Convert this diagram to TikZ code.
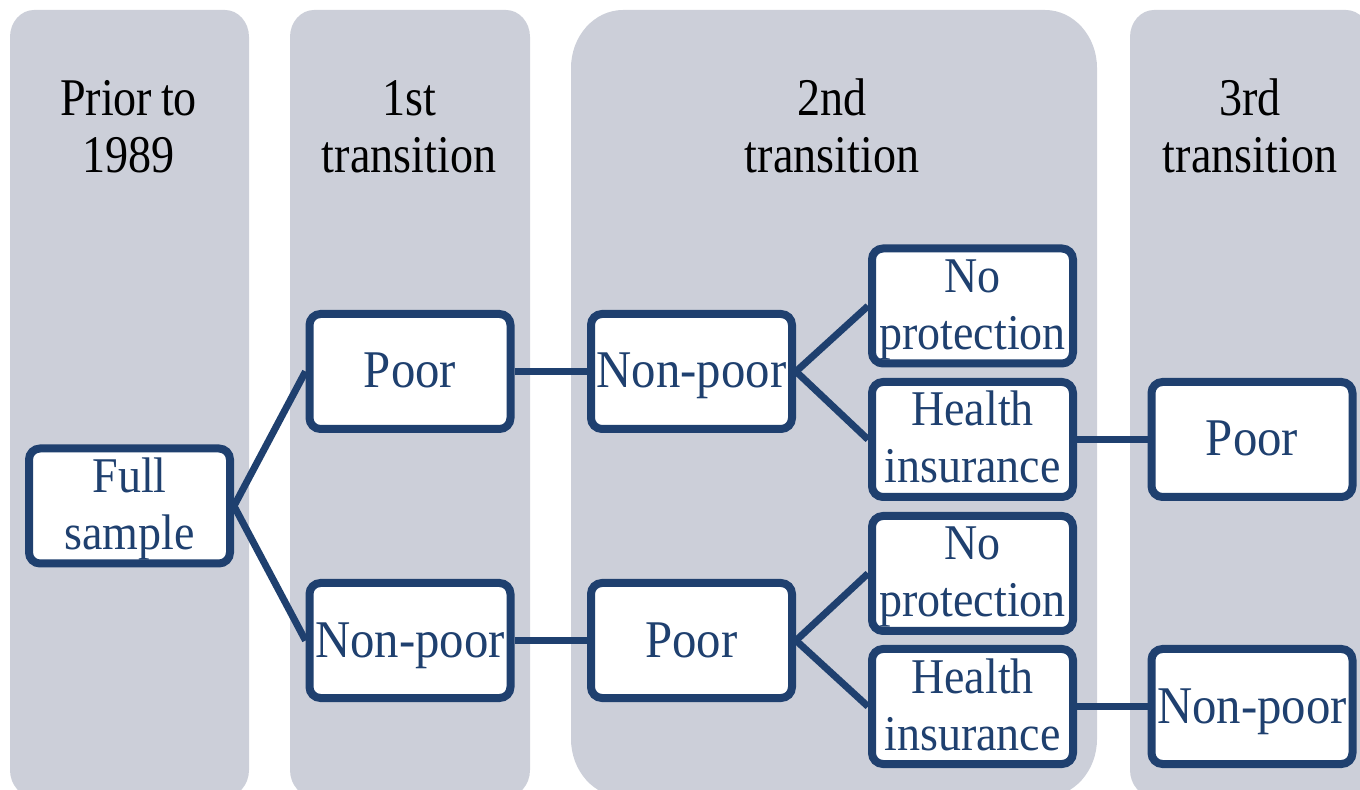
\documentclass[tikz,border=0pt]{standalone}
\usepackage{fontspec}
\setmainfont{Liberation Serif}
\newfontfamily\hdrfont{Liberation Serif}[FakeStretch=0.87]
\newfontfamily\boxfont{Liberation Serif}[FakeStretch=0.92]
\definecolor{colbg}{RGB}{204,207,217}
\definecolor{navy}{RGB}{31,64,111}
\newcommand\graycol[6]{%
 \fill[colbg] (#1,#2+#6) .. controls (#1,#2+0.448*#6) and (#1+0.448*#5,#2) .. (#1+#5,#2)
  -- (#3-#5,#2) .. controls (#3-0.448*#5,#2) and (#3,#2+0.448*#6) .. (#3,#2+#6)
  -- (#3,#4-#6) .. controls (#3,#4-0.448*#6) and (#3-0.448*#5,#4) .. (#3-#5,#4)
  -- (#1+#5,#4) .. controls (#1+0.448*#5,#4) and (#1,#4-0.448*#6) .. (#1,#4-#6) -- cycle;}
\tikzset{
  stagebox/.style={draw=navy, line width=4pt, fill=white, rounded corners=5.5pt,
    minimum width=100.5pt, minimum height=57.5pt, inner sep=0pt, text=navy, align=center},
  one/.style={font=\boxfont\fontsize{26.5}{28.5}\selectfont, text height=16.5pt, text depth=0pt},
  two/.style={font=\boxfont\fontsize{25}{28.5}\selectfont, text height=43.5pt, text depth=0pt},
  hdr/.style={anchor=north, inner sep=0pt, text=black, align=center,
    font=\hdrfont\fontsize{26.5}{28.5}\selectfont, text height=46pt, text depth=0pt},
  link/.style={draw=navy, line width=3.5pt},
}
\begin{document}
\begin{tikzpicture}[x=0.5pt,y=-0.5pt]
\useasboundingbox (0,0) rectangle (1360,790);
\begin{scope}
\clip (0,0) rectangle (1360,790);
\graycol{10}{10}{249}{797}{24}{27}
\graycol{290}{10}{530}{797}{24}{27}
\graycol{571}{10}{1097}{797}{52}{58}
\graycol{1130}{10}{1370}{797}{24}{27}
\end{scope}

\node[hdr] (h1) at (128.5,80) {Prior\,to\\1989};
\node[hdr] (h2) at (409,80) {1st\\transition};
\node[hdr] (h3) at (832,80) {2nd\\transition};
\node[hdr] (h4) at (1250,80) {3rd\\transition};

\node[stagebox,two] (full) at (129.5,506) {Full\\sample};
\node[stagebox,one] (poorA) at (410,371.5) {Poor};
\node[stagebox,one] (nonpoorA) at (410,640.5) {Non-poor};
\node[stagebox,one] (nonpoorB) at (691.5,371.5) {Non-poor};
\node[stagebox,one] (poorB) at (691.5,640.5) {Poor};
\node[stagebox,two] (noprotA) at (972.5,306) {No\\protection};
\node[stagebox,two] (healthA) at (972.5,439.5) {Health\\insurance};
\node[stagebox,two] (noprotB) at (972.5,573.5) {No\\protection};
\node[stagebox,two] (healthB) at (972.5,706.5) {Health\\insurance};
\node[stagebox,one] (poorC) at (1252,439.5) {Poor};
\node[stagebox,one] (nonpoorC) at (1252,706.5) {Non-poor};

\draw[link] (full.east) -- (poorA.west);
\draw[link] (full.east) -- (nonpoorA.west);
\draw[link] (poorA.east) -- (nonpoorB.west);
\draw[link] (nonpoorA.east) -- (poorB.west);
\draw[link] (nonpoorB.east) -- (noprotA.west);
\draw[link] (nonpoorB.east) -- (healthA.west);
\draw[link] (poorB.east) -- (noprotB.west);
\draw[link] (poorB.east) -- (healthB.west);
\draw[link] (healthA.east) -- (poorC.west);
\draw[link] (healthB.east) -- (nonpoorC.west);
\end{tikzpicture}
\end{document}
